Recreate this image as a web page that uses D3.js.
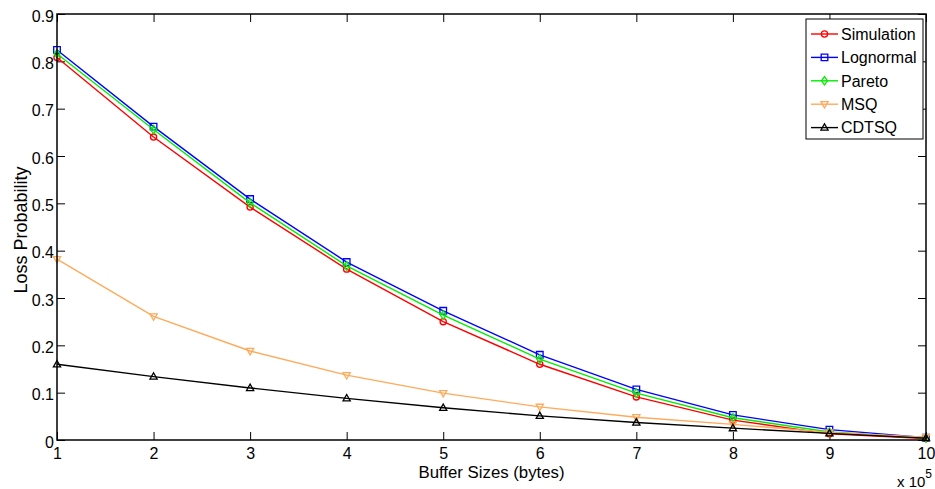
<!DOCTYPE html>
<html>
<head>
<meta charset="utf-8">
<script src="https://cdn.jsdelivr.net/npm/d3@7"></script>
<style>
  html, body { margin: 0; padding: 0; background: #fff; }
  svg { display: block; font-family: "Liberation Sans", Arial, sans-serif; }
</style>
</head>
<body>
<svg id="chart" width="935" height="489"></svg>
<script>
// Buffer sizes in units of 1e5 bytes
const bufferSizes = [1, 2, 3, 4, 5, 6, 7, 8, 9, 10];

const simulation = [0.808, 0.640, 0.492, 0.361, 0.250, 0.160, 0.091, 0.042, 0.013, 0.003];
const lognormal  = [0.824, 0.662, 0.509, 0.376, 0.273, 0.180, 0.107, 0.053, 0.022, 0.005];
const pareto     = [0.816, 0.656, 0.501, 0.368, 0.264, 0.171, 0.099, 0.047, 0.017, 0.004];
const msq        = [0.382, 0.261, 0.188, 0.137, 0.099, 0.070, 0.048, 0.033, 0.016, 0.006];
const cdtsq      = [0.160, 0.134, 0.110, 0.088, 0.068, 0.051, 0.037, 0.025, 0.014, 0.004];

const seriesNames  = ["Simulation", "Lognormal", "Pareto", "MSQ", "CDTSQ"];
const seriesColors = ["#ff0000", "#0000ff", "#00ee00", "#ffaa5a", "#000000"];
const seriesMarkers = ["circle", "square", "diamond", "triangleDown", "triangleUp"];

const xTicks = [1, 2, 3, 4, 5, 6, 7, 8, 9, 10];
const yTicks = [0, 0.1, 0.2, 0.3, 0.4, 0.5, 0.6, 0.7, 0.8, 0.9];

const series = [simulation, lognormal, pareto, msq, cdtsq].map((vals, i) => ({
  name: seriesNames[i], color: seriesColors[i], marker: seriesMarkers[i],
  points: bufferSizes.map((x, j) => ({ x, y: vals[j] }))
}));

const svg = d3.select("#chart");
const plotLeft = 57, plotRight = 926, plotTop = 14, plotBottom = 440;

const x = d3.scaleLinear().domain([1, 10]).range([plotLeft, plotRight]);
const y = d3.scaleLinear().domain([0, 0.9]).range([plotBottom, plotTop]);

const tickLen = 8;
const fontSize = 16;

// Marker shapes
function markerPath(type) {
  switch (type) {
    case "circle": return d3.symbol(d3.symbolCircle, 30)();
    case "square": return "M-3.3,-3.3H3.3V3.3H-3.3Z";
    case "diamond": return "M0,-4.2L3,0L0,4.2L-3,0Z";
    case "triangleUp": return "M0,-3.8L3.6,2.6L-3.6,2.6Z";
    case "triangleDown": return "M0,3.8L3.6,-2.6L-3.6,-2.6Z";
  }
}

// Axes: bottom/left with labels, top/right mirrored ticks only
const gx = svg.append("g").attr("transform", `translate(0,${plotBottom})`)
  .call(d3.axisBottom(x).tickValues(xTicks).tickSizeInner(-tickLen).tickSizeOuter(0).tickPadding(0).tickFormat(d3.format("d")));
const gy = svg.append("g").attr("transform", `translate(${plotLeft},0)`)
  .call(d3.axisLeft(y).tickValues(yTicks).tickSizeInner(-tickLen).tickSizeOuter(0).tickPadding(0).tickFormat(d => d === 0 ? "0" : d3.format(".1f")(d)));
const gxt = svg.append("g").attr("transform", `translate(0,${plotTop})`)
  .call(d3.axisTop(x).tickValues(xTicks).tickSizeInner(-tickLen).tickSizeOuter(0).tickFormat(""));
const gyr = svg.append("g").attr("transform", `translate(${plotRight},0)`)
  .call(d3.axisRight(y).tickValues(yTicks).tickSizeInner(-tickLen).tickSizeOuter(0).tickFormat(""));

[gx, gy, gxt, gyr].forEach(g => {
  g.select(".domain").remove();
  g.selectAll(".tick line").attr("stroke", "#000").attr("stroke-width", 1);
});

gx.selectAll(".tick text")
  .attr("y", 19).attr("dy", 0)
  .attr("font-size", fontSize).attr("font-family", "Liberation Sans, Arial, sans-serif").attr("fill", "#000");
gy.selectAll(".tick text")
  .attr("x", -3).attr("dy", "0.45em")
  .attr("font-size", fontSize).attr("font-family", "Liberation Sans, Arial, sans-serif").attr("fill", "#000");

// Plot lines and markers
const line = d3.line().x(d => x(d.x)).y(d => y(d.y));
const plot = svg.append("g");
series.forEach(s => {
  const g = plot.append("g");
  g.append("path").datum(s.points)
    .attr("d", line).attr("fill", "none")
    .attr("stroke", s.color).attr("stroke-width", 1.4);
  g.selectAll("path.mk").data(s.points).join("path")
    .attr("class", "mk")
    .attr("d", markerPath(s.marker))
    .attr("transform", d => `translate(${x(d.x)},${y(d.y)})`)
    .attr("fill", "none").attr("stroke", s.color).attr("stroke-width", 1.3);
});

// Plot frame
svg.append("rect")
  .attr("x", plotLeft).attr("y", plotTop)
  .attr("width", plotRight - plotLeft).attr("height", plotBottom - plotTop)
  .attr("fill", "none").attr("stroke", "#000").attr("stroke-width", 1.5);

// Axis titles
svg.append("text")
  .attr("x", (plotLeft + plotRight) / 2).attr("y", 478)
  .attr("text-anchor", "middle").attr("font-size", 16.8)
  .text("Buffer Sizes (bytes)");

svg.append("text")
  .attr("transform", `translate(27,230) rotate(-90)`)
  .attr("text-anchor", "middle").attr("font-size", 18)
  .text("Loss Probability");

// Exponent label
const expo = svg.append("text").attr("x", 897).attr("y", 486.5).attr("font-size", 15);
expo.append("tspan").text("x 10");
expo.append("tspan").attr("dy", -9).attr("font-size", 12).text("5");

// Legend
const lg = svg.append("g");
const lgX = 806, lgY = 19, lgW = 117, lgH = 120;
lg.append("rect").attr("x", lgX).attr("y", lgY).attr("width", lgW).attr("height", lgH)
  .attr("fill", "#fff").attr("stroke", "#000").attr("stroke-width", 1);
series.forEach((s, i) => {
  const cy = 34 + i * 23.4;
  lg.append("line").attr("x1", 811).attr("x2", 838).attr("y1", cy).attr("y2", cy)
    .attr("stroke", s.color).attr("stroke-width", 1.4);
  lg.append("path").attr("d", markerPath(s.marker))
    .attr("transform", `translate(824.5,${cy})`)
    .attr("fill", "none").attr("stroke", s.color).attr("stroke-width", 1.3);
  lg.append("text").attr("x", 841).attr("y", cy).attr("dy", "0.36em")
    .attr("font-size", fontSize).text(s.name);
});
</script>
</body>
</html>
